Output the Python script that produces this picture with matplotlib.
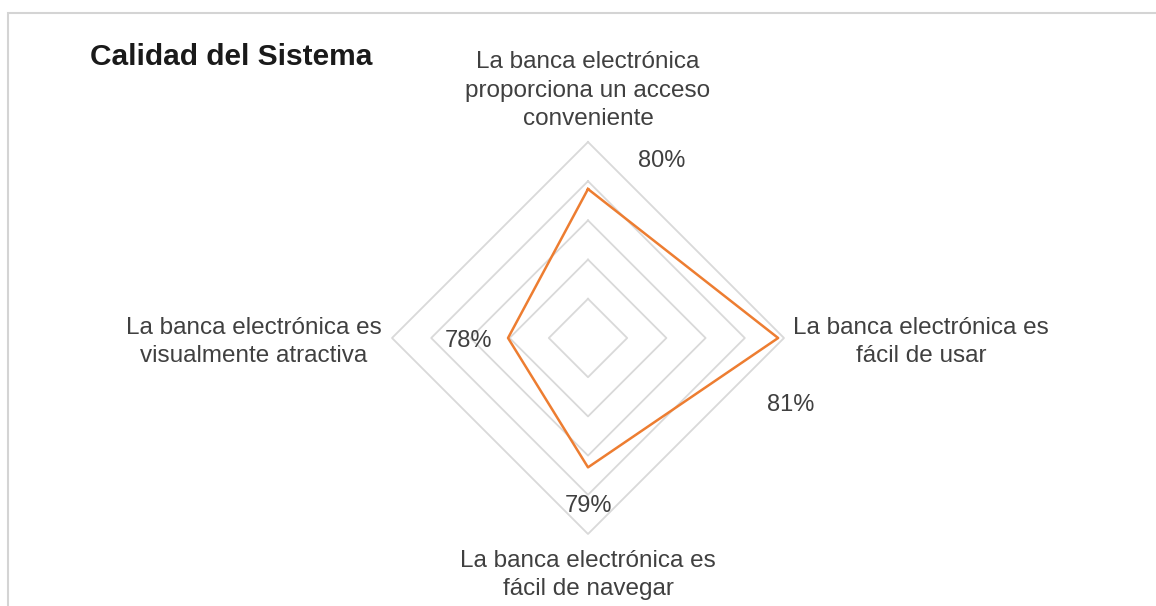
import numpy as np
import matplotlib
matplotlib.use("Agg")
import matplotlib.pyplot as plt
from matplotlib.patches import Rectangle

plt.rcParams['font.family'] = ['Liberation Sans', 'DejaVu Sans']

# data
title = "Calidad del Sistema"
categories = ["La banca electrónica\nproporciona un acceso\nconveniente",
              "La banca electrónica es\nfácil de usar",
              "La banca electrónica es\nfácil de navegar",
              "La banca electrónica es\nvisualmente atractiva"]
values = [0.798, 0.8085, 0.793, 0.7804]
rings = [0.77, 0.78, 0.79, 0.80, 0.81]
r_min, r_max = 0.76, 0.81

W, H = 1156, 606
fig = plt.figure(figsize=(W / 100, H / 100), dpi=100)

# chart frame (only top and left edges visible)
fig.patches.append(Rectangle((8 / W, -0.2), 1.2, (H - 13) / H + 0.2,
                             transform=fig.transFigure, fill=False,
                             edgecolor='#d4d4d4', linewidth=1.5, clip_on=False))

cx, cy, R = 588, H - 338, 196
ax = fig.add_axes([(cx - R) / W, (cy - R) / H, 2 * R / W, 2 * R / H], projection='polar')
ax.set_theta_offset(np.pi / 2)
ax.set_theta_direction(-1)
ax.set_ylim(r_min, r_max)
ax.set_xticks([])
ax.set_yticks([])
ax.grid(False)
ax.spines['polar'].set_visible(False)
ax.patch.set_visible(False)

angles = np.arange(len(categories)) * 2 * np.pi / len(categories)
ang_c = np.append(angles, angles[0])

for r in rings:
    ax.plot(ang_c, [r] * len(ang_c), color='#d9d9d9', lw=1.3, clip_on=False, zorder=1)

vals_c = values + values[:1]
ax.plot(ang_c, vals_c, color='#ED7D31', lw=1.8, clip_on=False, zorder=3)

# category labels (offset to baseline of last line)
cat_pos = [((0, 17), 'center'), ((9, -24), 'left'), ((0, -61), 'center'), ((-10, -24), 'right')]
for a, lab, (off, ha) in zip(angles, categories, cat_pos):
    ax.annotate(lab, xy=(a, r_max), xytext=off, textcoords='offset pixels',
                ha=ha, va='baseline', multialignment='center', fontsize=17.5,
                color='#404040', linespacing=1.37, annotation_clip=False)

# value labels
val_off = [(74, 28), (13, -67), (0, -39), (-40, -3)]
for a, v, off in zip(angles, values, val_off):
    ax.annotate(f"{v:.0%}", xy=(a, v), xytext=off, textcoords='offset pixels',
                ha='center', va='center', fontsize=17, color='#404040',
                annotation_clip=False)

fig.text(90 / W, (H - 65) / H, title, fontsize=21.5, fontweight='bold',
         color='#1a1a1a', ha='left', va='baseline')

fig.savefig("out.png", dpi=100, facecolor='white')
